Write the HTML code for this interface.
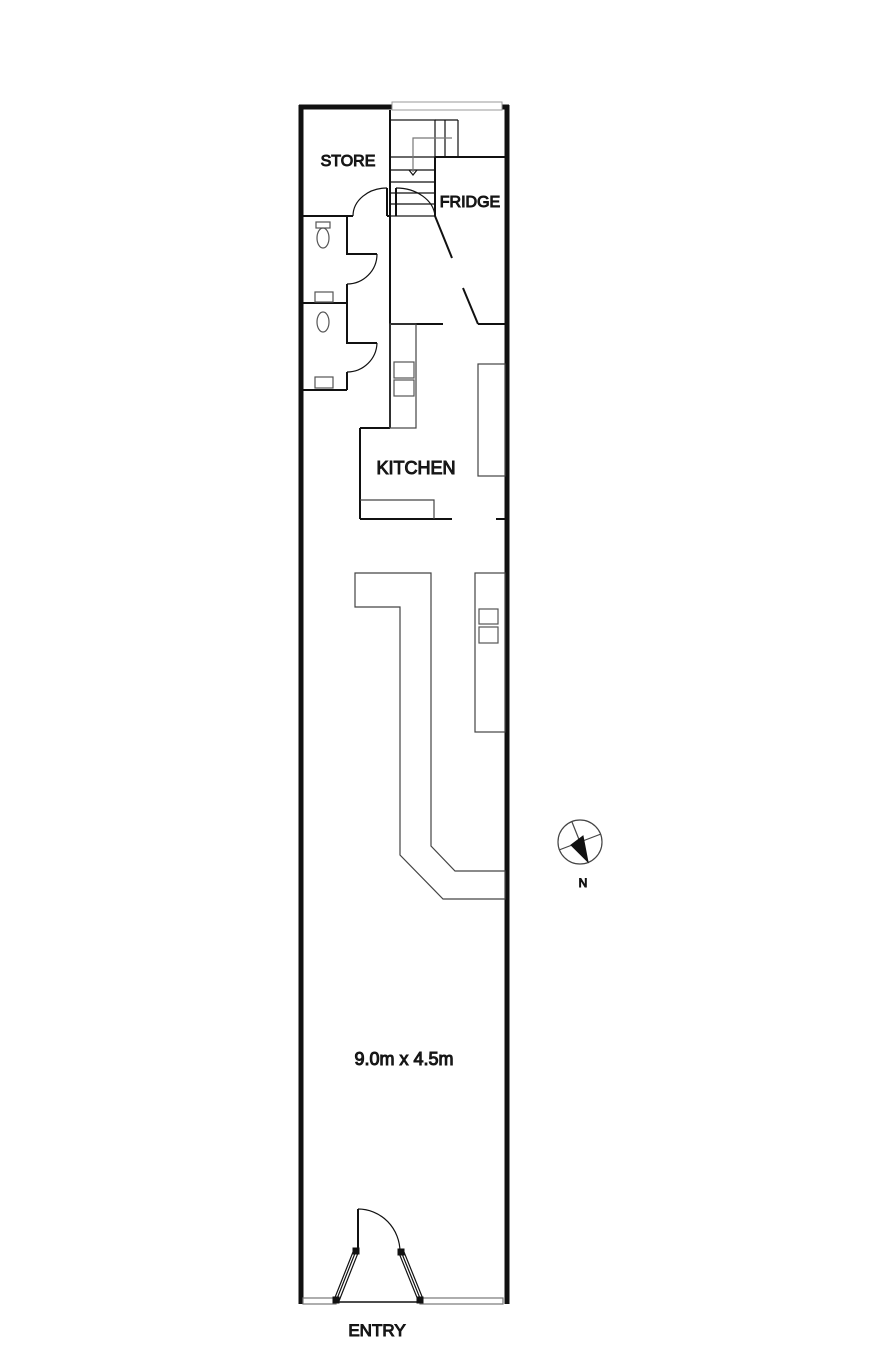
<!DOCTYPE html>
<html><head><style>
body{margin:0;background:#fff;}
svg{display:block;}
text{font-family:"Liberation Sans",Arial,sans-serif;font-weight:normal;fill:#222;}
</style></head><body>
<svg width="888" height="1360" viewBox="0 0 888 1360" xmlns="http://www.w3.org/2000/svg">
<g fill="none" stroke="#111">
<line x1="301" y1="105" x2="301" y2="1304" stroke-width="5"/>
<line x1="507" y1="105" x2="507" y2="1304" stroke-width="5"/>
<line x1="299" y1="107" x2="392" y2="107" stroke-width="5"/>
<line x1="502" y1="107" x2="509" y2="107" stroke-width="5"/>
<rect x="392" y="102" width="110" height="8" stroke="#999" stroke-width="1"/>
<g stroke-width="2">
<line x1="390" y1="110" x2="390" y2="428"/>
<line x1="303" y1="216" x2="353" y2="216"/>
<line x1="387" y1="216" x2="390" y2="216"/>
<line x1="387" y1="188" x2="387" y2="216"/>
<line x1="435" y1="157" x2="505" y2="157"/>
<line x1="435" y1="157" x2="435" y2="216"/>
<line x1="390" y1="324" x2="443" y2="324"/>
<line x1="478" y1="324" x2="505" y2="324"/>
<line x1="435" y1="216" x2="452" y2="258"/>
<line x1="463" y1="288" x2="478" y2="324"/>
<polyline points="347,216 347,254 377,254"/>
<polyline points="347,284 347,303"/>
<line x1="303" y1="303" x2="347" y2="303"/>
<polyline points="347,303 347,343 377,343"/>
<polyline points="347,372 347,390"/>
<line x1="303" y1="390" x2="347" y2="390"/>
<line x1="360" y1="428" x2="390" y2="428"/>
<line x1="360" y1="428" x2="360" y2="519"/>
<line x1="360" y1="519" x2="452" y2="519"/>
<line x1="496" y1="519" x2="505" y2="519"/>
</g>
<g stroke-width="1.2">
<path d="M353 216 A34 28 0 0 1 387 188"/>
<path d="M377 254 A30 30 0 0 1 347 284"/>
<path d="M377 343 A30 30 0 0 1 347 372"/>
<rect x="390" y="120" width="45" height="96"/>
<line x1="435" y1="120" x2="458" y2="120"/>
<line x1="458" y1="120" x2="458" y2="157"/>
<line x1="445" y1="120" x2="445" y2="157"/>
<line x1="390" y1="157" x2="435" y2="157"/>
<line x1="390" y1="170" x2="435" y2="170"/>
<line x1="390" y1="182" x2="435" y2="182"/>
<line x1="390" y1="193" x2="435" y2="193"/>
<line x1="390" y1="204" x2="435" y2="204"/>
<polyline points="452,138 413,138 413,172" stroke="#777"/>
<polyline points="409,170 413,175 417,170"/>
<line x1="396" y1="188" x2="396" y2="216" stroke-width="2"/>
<path d="M396 188 A39 30 0 0 1 435 216"/>
<rect x="316" y="222" width="14" height="6" stroke="#555"/>
<ellipse cx="323" cy="238" rx="6" ry="10" stroke="#555"/>
<rect x="315" y="292" width="18" height="10" stroke="#555"/>
<ellipse cx="323" cy="322" rx="6" ry="10" stroke="#555"/>
<rect x="315" y="377" width="18" height="11" stroke="#555"/>
<rect x="390" y="324" width="26" height="104" stroke="#444"/>
<rect x="394" y="362" width="20" height="16" stroke="#555"/>
<rect x="394" y="380" width="20" height="16" stroke="#555"/>
<rect x="478" y="364" width="27" height="112" stroke="#444"/>
<polyline points="360,500 434,500 434,519" stroke="#444"/>
<polygon points="355,573 431,573 431,846 455,871 505,871 505,899 443,899 400,855 400,607 355,607" stroke="#444"/>
<rect x="475" y="573" width="30" height="159" stroke="#444"/>
<rect x="479" y="609" width="19" height="15" stroke="#555"/>
<rect x="479" y="627" width="19" height="16" stroke="#555"/>
<circle cx="580" cy="842" r="22" stroke="#444"/>
<line x1="572" y1="822" x2="588" y2="862" stroke="#444"/>
<line x1="559" y1="850" x2="601" y2="834" stroke="#444"/>
<line x1="358" y1="1209" x2="358" y2="1251" stroke-width="2"/>
<path d="M358 1209 A42 43 0 0 1 400 1252"/>
<line x1="336" y1="1302" x2="420" y2="1302" stroke-width="1.5"/>
<path d="M353 1252 L334 1300 M358 1253 L339 1301 M355.5 1252 L336.5 1300"/>
<path d="M399 1253 L418 1300 M404 1252 L423 1299 M401.5 1252.5 L420.5 1299.5"/>
<rect x="303" y="1298" width="33" height="6" stroke="#777"/>
<rect x="420" y="1298" width="83" height="6" stroke="#777"/>
</g>
<polygon points="571,845 583,836 588,862" fill="#111"/>
<rect x="353" y="1248" width="6" height="6" fill="#111"/>
<rect x="398" y="1249" width="6" height="6" fill="#111"/>
<rect x="333" y="1297" width="6" height="6" fill="#111"/>
<rect x="417" y="1297" width="6" height="6" fill="#111"/>
<text x="348" y="166" font-size="16" text-anchor="middle">STORE</text>
<text x="470" y="207" font-size="16" text-anchor="middle">FRIDGE</text>
<text x="416" y="474" font-size="18" text-anchor="middle">KITCHEN</text>
<text x="404" y="1065" font-size="18" text-anchor="middle">9.0m x 4.5m</text>
<text x="377" y="1336" font-size="17" text-anchor="middle">ENTRY</text>
<text x="583" y="887" font-size="12" text-anchor="middle">N</text>
</svg>
</body></html>
